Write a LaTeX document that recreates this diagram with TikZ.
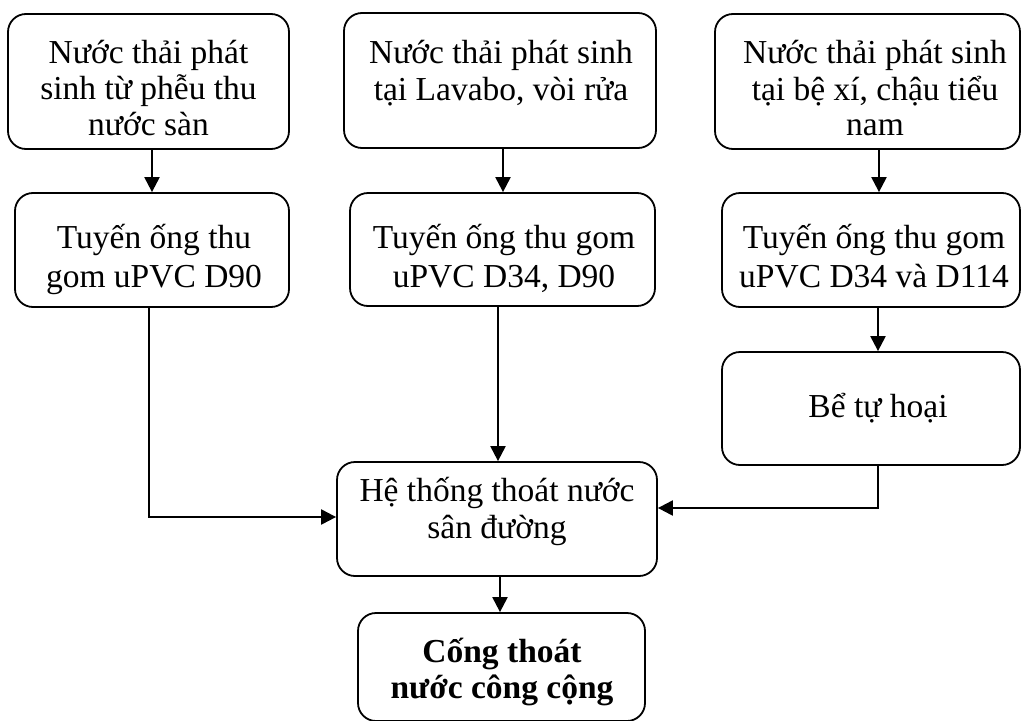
\documentclass[tikz,border=0pt]{standalone}
\usepackage{fontspec}
\setmainfont{Liberation Serif}
\usetikzlibrary{arrows.meta}
\begin{document}
\begin{tikzpicture}[x=1pt,y=-1pt,
  box/.style={draw, line width=1.8pt, rounded corners=18pt, inner sep=0pt},
  txt/.style={anchor=base, inner sep=0pt, font=\fontsize{33.5}{36}\selectfont},
  btxt/.style={anchor=base, inner sep=0pt, font=\fontsize{33.5}{36}\selectfont\bfseries},
  conn/.style={line width=2.2pt, -{Triangle[length=15pt,width=15pt]}}]
\useasboundingbox (0,0) rectangle (1022,720);
% boxes
\node[box, minimum width=281pt, minimum height=135pt] (a1) at (148.5,81.5) {};
\node[box, minimum width=312pt, minimum height=135pt] (a2) at (500,80.5) {};
\node[box, minimum width=305pt, minimum height=135pt] (a3) at (867.5,81.5) {};
\node[box, minimum width=274pt, minimum height=114pt] (b1) at (152,250) {};
\node[box, minimum width=305pt, minimum height=113pt] (b2) at (502.5,249.5) {};
\node[box, minimum width=298pt, minimum height=114pt] (b3) at (871,250) {};
\node[box, minimum width=298pt, minimum height=113pt] (b4) at (871,408.5) {};
\node[box, minimum width=320pt, minimum height=114pt] (c) at (497,519) {};
\node[box, minimum width=287pt, minimum height=108pt] (d) at (501.5,667) {};
% texts
\node[txt] (a1t1) at (148.5,63) {Nước thải phát};
\node[txt] (a1t2) at (148.5,99) {sinh từ phễu thu};
\node[txt] (a1t3) at (148.5,135) {nước sàn};
\node[txt] (a2t1) at (501,63) {Nước thải phát sinh};
\node[txt] (a2t2) at (501,100) {tại Lavabo, vòi rửa};
\node[txt] (a3t1) at (875,63) {Nước thải phát sinh};
\node[txt] (a3t2) at (875,100) {tại bệ xí, chậu tiểu};
\node[txt] (a3t3) at (875,135) {nam};
\node[txt] (b1t1) at (154,248) {Tuyến ống thu};
\node[txt] (b1t2) at (154,287) {gom uPVC D90};
\node[txt] (b2t1) at (504,248) {Tuyến ống thu gom};
\node[txt] (b2t2) at (504,287) {uPVC D34, D90};
\node[txt] (b3t1) at (874,248) {Tuyến ống thu gom};
\node[txt] (b3t2) at (874,287) {uPVC D34 và D114};
\node[txt] (b4t1) at (878,417) {Bể tự hoại};
\node[txt] (ct1) at (497,501) {Hệ thống thoát nước};
\node[txt] (ct2) at (497,538) {sân đường};
\node[btxt] (dt1) at (502,662) {Cống thoát};
\node[btxt] (dt2) at (502,698) {nước công cộng};
% connectors
\draw[conn] ([xshift=3.5pt]a1.south) -- ([xshift=3.5pt]a1.south |- b1.north);
\draw[conn] ([xshift=3pt]a2.south) -- ([xshift=3pt]a2.south |- b2.north);
\draw[conn] ([xshift=11.5pt]a3.south) -- ([xshift=11.5pt]a3.south |- b3.north);
\draw[conn] ([xshift=7pt]b3.south) -- ([xshift=7pt]b3.south |- b4.north);
\draw[conn] ([xshift=-3pt]b1.south) |- ([yshift=2pt]c.west);
\draw[conn] ([xshift=-4.5pt]b2.south) -- ([xshift=-4.5pt]b2.south |- c.north);
\draw[conn] ([xshift=7pt]b4.south) |- ([yshift=11pt]c.east);
\draw[conn] ([xshift=3pt]c.south) -- ([xshift=3pt]c.south |- d.north);
\end{tikzpicture}
\end{document}
